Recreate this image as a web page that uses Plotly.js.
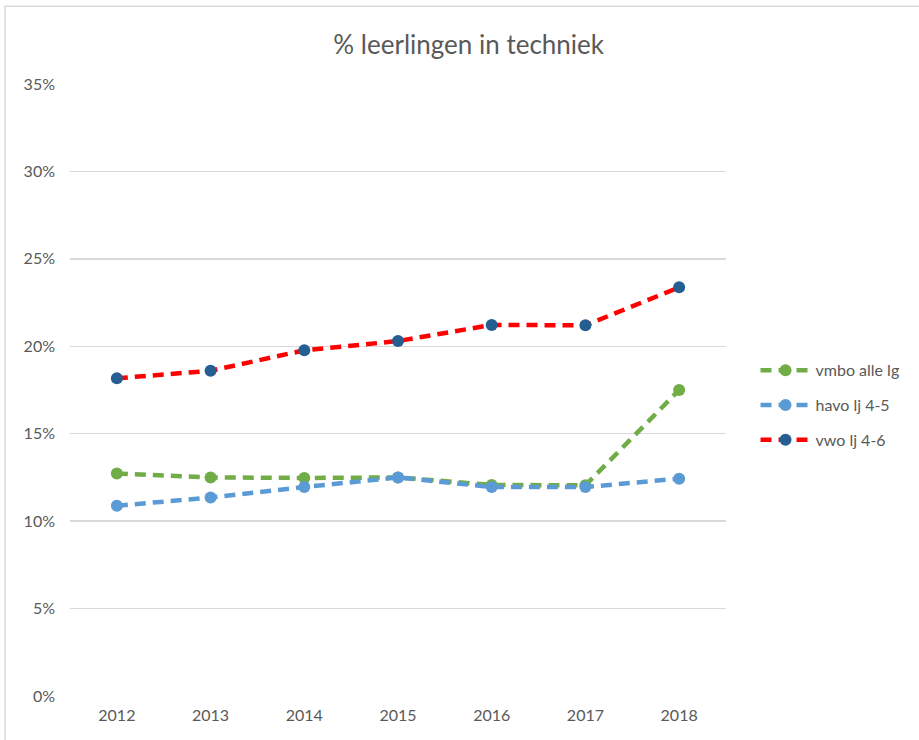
<!DOCTYPE html>
<html>
<head>
<meta charset="utf-8">
<script src="https://cdn.plot.ly/plotly-3.0.1.min.js"></script>
<style>html,body{margin:0;padding:0;background:#fff;}</style>
</head>
<body>
<div id="chart" style="width:919px;height:740px;"></div>
<script>
const years = ['2012','2013','2014','2015','2016','2017','2018'];
const vmbo = [0.1273, 0.1250, 0.1247, 0.1250, 0.1207, 0.1205, 0.1750];
const havo = [0.1088, 0.1135, 0.1195, 0.1250, 0.1195, 0.1195, 0.1243];
const vwo  = [0.1817, 0.1860, 0.1977, 0.2030, 0.2122, 0.2120, 0.2337];
const seriesNames = ['vmbo alle lg', 'havo lj 4-5', 'vwo lj 4-6'];
const yTicks = [0, 0.05, 0.10, 0.15, 0.20, 0.25, 0.30, 0.35];
const yTickText = ['0%', '5%', '10%', '15%', '20%', '25%', '30%', '35%'];

const font = "Lato, Open Sans, Liberation Sans, sans-serif";
function tr(name, y, lineColor, markerColor, grp) {
  return {
    type: 'scatter', mode: 'lines+markers', name: name, x: years, y: y,
    legendgroup: grp,
    line: {color: lineColor, width: 4.5, dash: '11px,7px'},
    marker: {color: markerColor, size: 12},
    hoverinfo: 'skip'
  };
}
const data = [
  tr(seriesNames[0], vmbo, '#70ad47', '#70ad47', 'a'),
  tr(seriesNames[1], havo, '#5b9bd5', '#5b9bd5', 'b'),
  tr(seriesNames[2], vwo, '#ff0000', '#255e91', 'c')
];
const layout = {
  width: 919, height: 740,
  margin: {l: 70, r: 193, t: 84, b: 44},
  paper_bgcolor: '#ffffff', plot_bgcolor: '#ffffff',
  title: {text: '% leerlingen in techniek', font: {family: font, size: 26, color: '#595959'},
          x: 0.51, xref: 'container', xanchor: 'center', y: 0.94, yref: 'container', yanchor: 'middle'},
  xaxis: {type: 'category', range: [-0.5, 6.5], showgrid: false, zeroline: false, showline: false,
          ticks: '', tickfont: {family: font, size: 16, color: '#595959'}, ticklabelstandoff: 8, fixedrange: true},
  yaxis: {range: [0, 0.35], tickvals: yTicks, ticktext: yTickText, showgrid: true, gridcolor: '#d9d9d9', gridwidth: 1.5,
          zeroline: false, showline: false, ticks: '', tickfont: {family: font, size: 16, color: '#595959'},
          ticklabelstandoff: 14, fixedrange: true},
  showlegend: true,
  legend: {x: 1.045, xanchor: 'left', y: 0.56, yanchor: 'top', traceorder: 'grouped', tracegroupgap: 11,
           itemwidth: 50, font: {family: font, size: 16, color: '#595959'}, bgcolor: 'rgba(0,0,0,0)'},
  shapes: [{type: 'rect', xref: 'paper', yref: 'paper', x0: -0.099, x1: 1.6, y0: -0.5, y1: 1.127,
            line: {color: '#d9d9d9', width: 1.5}, fillcolor: 'rgba(0,0,0,0)', layer: 'below'}]
};
Plotly.newPlot('chart', data, layout, {displayModeBar: false, staticPlot: true});
</script>
</body>
</html>
